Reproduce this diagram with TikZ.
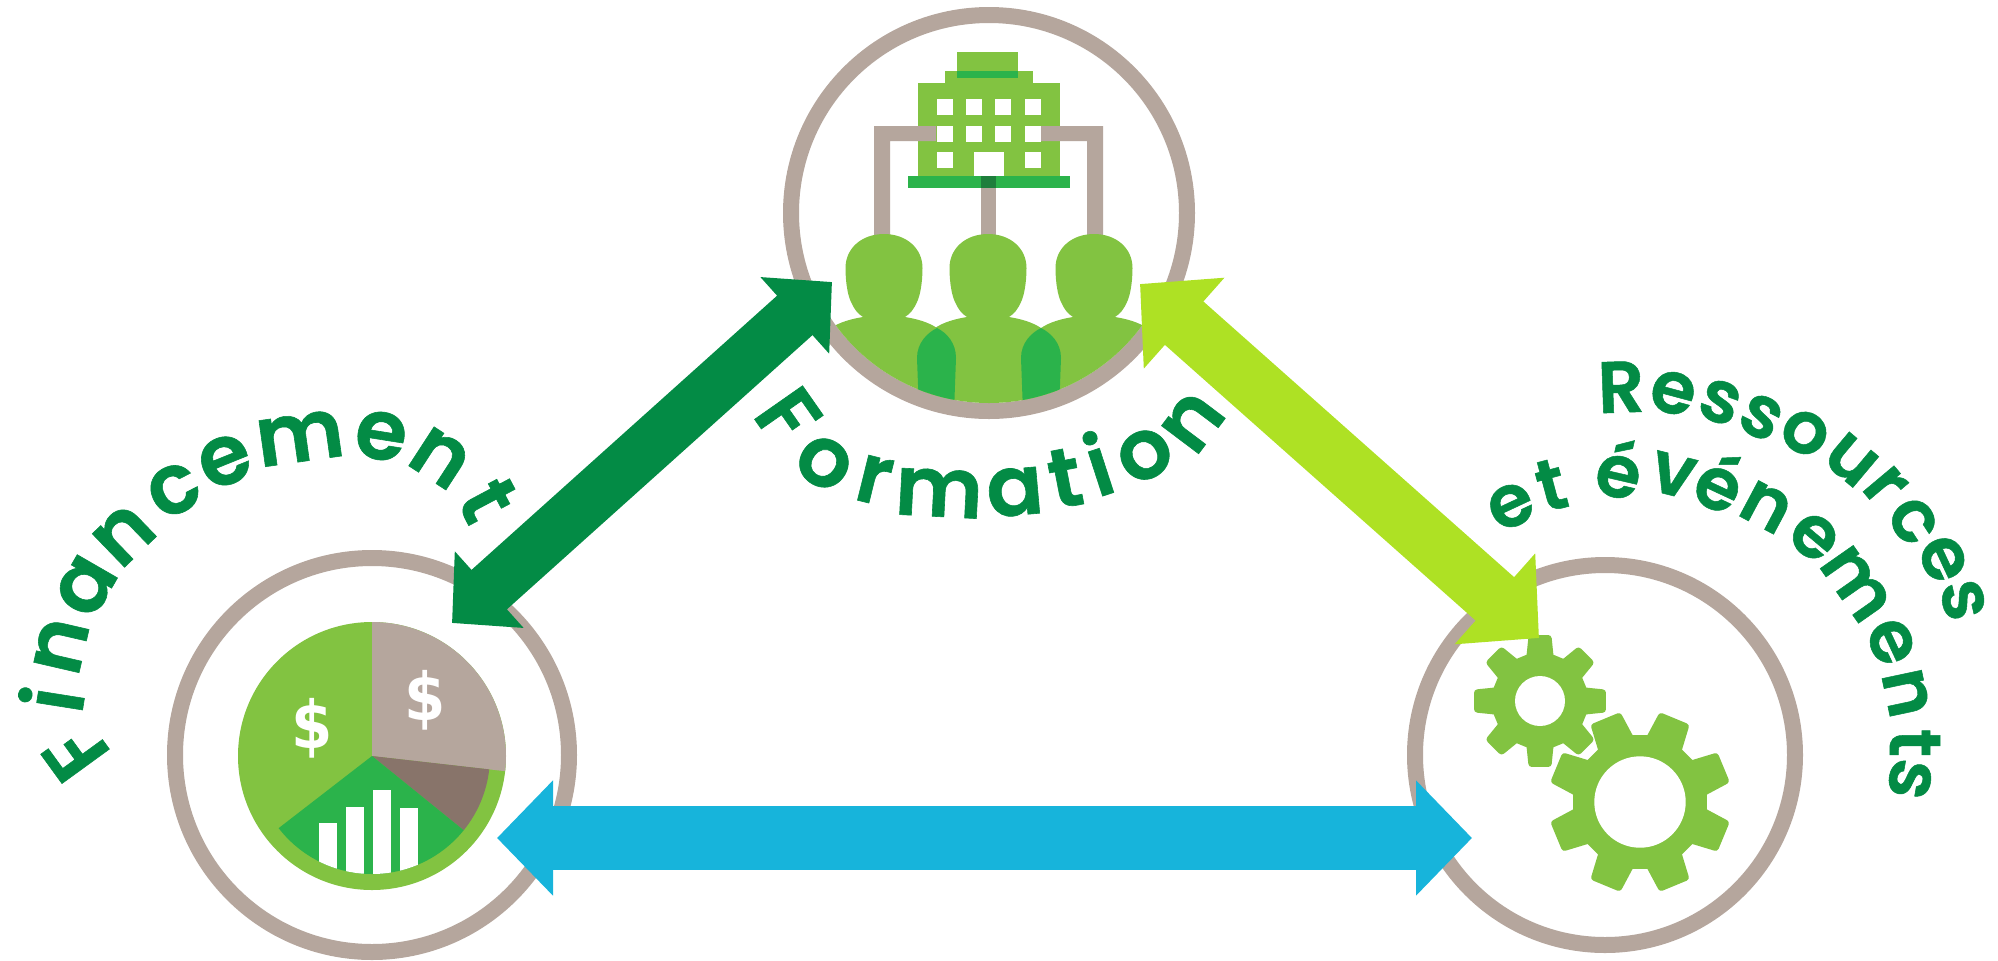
\documentclass[tikz,border=0pt]{standalone}
\usepackage{fontspec}
\usetikzlibrary{arrows.meta}
\setmainfont{Poppins}
\newfontfamily\labfont[FakeBold=0.7]{Poppins SemiBold}
\newfontfamily\dollarfont{DejaVu Sans}
\definecolor{dkgreen}{HTML}{038B45}
\definecolor{lime}{HTML}{AEE124}
\definecolor{ltgreen}{HTML}{82C341}
\definecolor{midgreen}{HTML}{2BB34B}
\definecolor{tan}{HTML}{B5A69D}
\definecolor{brown}{HTML}{88746A}
\definecolor{sky}{HTML}{17B4DB}
\definecolor{overlap}{HTML}{1E7E3C}
\tikzset{
  ring/.style={circle,draw=tan,line width=8pt,inner sep=0pt,fill=white},
  lettre/.style={inner sep=0pt,text=dkgreen,font=\fontsize{42}{42}\labfont},
  lettrepetit/.style={inner sep=0pt,text=dkgreen,font=\fontsize{36.5}{36.5}\labfont},
  dollar/.style={inner sep=0pt,text=white,xscale=0.9,font=\fontsize{33}{33}\dollarfont\bfseries},
  gear/.style={fill=ltgreen,draw=ltgreen,line width=3.5pt,line join=round},
}
\newcommand{\personpath}[1]{
  (#1,234) .. controls (#1+22,234) and (#1+38.5,248) .. (#1+38.5,268)
  .. controls (#1+38.5,283) and (#1+36,296) .. (#1+33,302)
  .. controls (#1+30,309) and (#1+26,314) .. (#1+21,317)
  .. controls (#1+33,319) and (#1+44,322) .. (#1+53,328)
  .. controls (#1+65,335) and (#1+72,345) .. (#1+72,358)
  -- (#1+70,412) -- (#1-70,412) -- (#1-72,358)
  .. controls (#1-72,345) and (#1-65,335) .. (#1-53,328)
  .. controls (#1-44,322) and (#1-33,319) .. (#1-21,317)
  .. controls (#1-26,314) and (#1-30,309) .. (#1-33,302)
  .. controls (#1-36,296) and (#1-38.5,283) .. (#1-38.5,268)
  .. controls (#1-38.5,248) and (#1-22,234) .. (#1,234) -- cycle
}
\begin{document}
\begin{tikzpicture}[x=0.5pt,y=-0.5pt]
\useasboundingbox (0,0) rectangle (1998,960);

% rings
\node[ring,minimum size=198pt] (ringF) at (989,213) {};
\node[ring,minimum size=197pt] (ringL) at (372,755) {};
\node[ring,minimum size=190pt] (ringR) at (1605,755) {};

% building
\fill[ltgreen] (957,52) rectangle (1018,71);
\fill[ltgreen] (945,71) rectangle (1033,83);
\fill[midgreen] (957,71) rectangle (1018,78);
\fill[ltgreen] (918,83) rectangle (1059.5,176);
\foreach \wx in {936.5,966,995,1025} {
  \fill[white] (\wx,99) rectangle (\wx+16,115);
  \fill[white] (\wx,126) rectangle (\wx+16,142);
}
\fill[white] (936.5,152) rectangle (952.5,168);
\fill[white] (1025,152) rectangle (1041,168);
\fill[white] (974,152) rectangle (1003.5,176);
\fill[midgreen] (908,176) rectangle (1069.5,188);
\fill[overlap] (981,176) rectangle (996,188);
% tan connectors
\fill[tan] (936,126) -- (874,126) -- (874,245) -- (890,245) -- (890,141) -- (936,141) -- cycle;
\fill[tan] (1041,126) -- (1103,126) -- (1103,245) -- (1087,245) -- (1087,141) -- (1041,141) -- cycle;
\fill[tan] (981,188) rectangle (996,245);
% people
\begin{scope}
  \clip (989,213) circle[radius=190];
  \fill[ltgreen] \personpath{884};
  \fill[ltgreen] \personpath{988};
  \fill[ltgreen] \personpath{1094};
  \fill[midgreen] (937,328) .. controls (927,333) and (917,343) .. (917,358) -- (919,412) -- (954,412) -- (956,358) .. controls (956,343) and (947,333) .. (937,328) -- cycle;
  \fill[midgreen] (1041,328) .. controls (1031,333) and (1021,343) .. (1021,358) -- (1023,412) -- (1059,412) -- (1061,358) .. controls (1061,343) and (1051,333) .. (1041,328) -- cycle;
\end{scope}

% pie
\begin{scope}[shift={(372,756)},x=0.5pt,y=0.5pt]
  \fill[ltgreen] (0,0) circle[radius=134];
  \fill[tan] (0,0) -- (90:134) arc[start angle=90,end angle=-6.5,radius=134] -- cycle;
  \fill[brown] (0,0) -- (-6.5:118) arc[start angle=-6.5,end angle=-39,radius=118] -- cycle;
  \fill[midgreen] (0,0) -- (-39:118) arc[start angle=-39,end angle=-142.3,radius=118] -- cycle;
  \begin{scope}
    \clip (0,0) circle[radius=118];
    \fill[white] (-53.3,-66.7) rectangle (-35.3,-125);
    \fill[white] (-26.3,-50.7) rectangle (-8.3,-125);
    \fill[white] (0.7,-34.3) rectangle (18.7,-125);
    \fill[white] (27.7,-52.3) rectangle (45.7,-125);
  \end{scope}
\end{scope}
\node[dollar] (dolA) at (312,728) {\$};
\node[dollar] (dolB) at (425,700) {\$};

% gears
\begin{scope}[shift={(1540,701)},x=0.5pt,y=0.5pt]
  \filldraw[gear] (-13:45) \foreach \a in {0,45,...,315} { -- (\a-13:45) -- (\a-7.5:63) -- (\a+7.5:63) -- (\a+13:45) } -- cycle;
  \fill[white] (0,0) circle[radius=25];
\end{scope}
\begin{scope}[shift={(1640,802)},x=0.5pt,y=0.5pt]
  \filldraw[gear] (8.5:64) \foreach \a in {22.5,67.5,...,337.5} { -- (\a-14:64) -- (\a-8.5:88) -- (\a+8.5:88) -- (\a+14:64) } -- cycle;
  \fill[white] (0,0) circle[radius=45.7];
\end{scope}

% arrows
\coordinate (fa) at (832,282);
\coordinate (fb) at (452,623);
\coordinate (la) at (1140,284);
\coordinate (lb) at (1539,638);
\coordinate (ba) at (497,838);
\coordinate (bb) at (1472,838);
\draw[dkgreen,line width=26.5pt,{Triangle[length=25pt,width=50pt]}-{Triangle[length=25pt,width=50pt]}] (fa) -- (fb);
\draw[lime,line width=29pt,{Triangle[length=29.5pt,width=59pt]}-{Triangle[length=29.5pt,width=59pt]}] (la) -- (lb);
\draw[sky,line width=32pt,{Triangle[length=28pt,width=56pt]}-{Triangle[length=28pt,width=56pt]}] (ba) -- (bb);

% labels
\foreach \x/\y/\r/\ch [count=\i] in {
  788/416/-55/F, 824/463/-35/o, 874/480/-14/r, 939/493/-3/m, 1015/492/5/a,
  1065/478/11/t, 1098/463/18/i, 1145/455/35/o, 1193/422/53/n}
  \node[lettre,rotate=\r] (forma\i) at (\x,\y) {\ch};
\foreach \x/\y/\r/\ch [count=\i] in {
  76/753/126/F, 51/699/81/i, 61/646/77/n, 86/586/60/a, 124/535/44/n,
  174/490/27/c, 225/461/22/e, 300/438/8/m, 381/436/-9/e, 440/458/-33/n, 488/500/-62/t}
  \node[lettre,rotate=\r] (fin\i) at (\x,\y) {\ch};
\foreach \x/\y/\r/\ch [count=\i] in {
  1621/387/2/R, 1673/393/-15/e, 1720/402/-20/s, 1761/417/-27/s, 1805/433/-33/o,
  1851/460/-40/u, 1885/486/-50/r, 1913/521/-57/c, 1943/559/-65/e, 1963/600/-77/s}
  \node[lettrepetit,rotate=\r] (res\i) at (\x,\y) {\ch};
\foreach \x/\y/\r/\ch [count=\i] in {
  1511/506/25/e, 1551/485/15/t, 1620/468/-13/é, 1673/475/-14/v, 1721/481/-25/é,
  1766/507/-28/n, 1814/537/-40/e, 1856/584/-55/m, 1891/642/-65/e, 1906/693/-78/n,
  1915/743/-90/t, 1910/779/-100/s}
  \node[lettrepetit,rotate=\r] (eve\i) at (\x,\y) {\ch};
\end{tikzpicture}
\end{document}
